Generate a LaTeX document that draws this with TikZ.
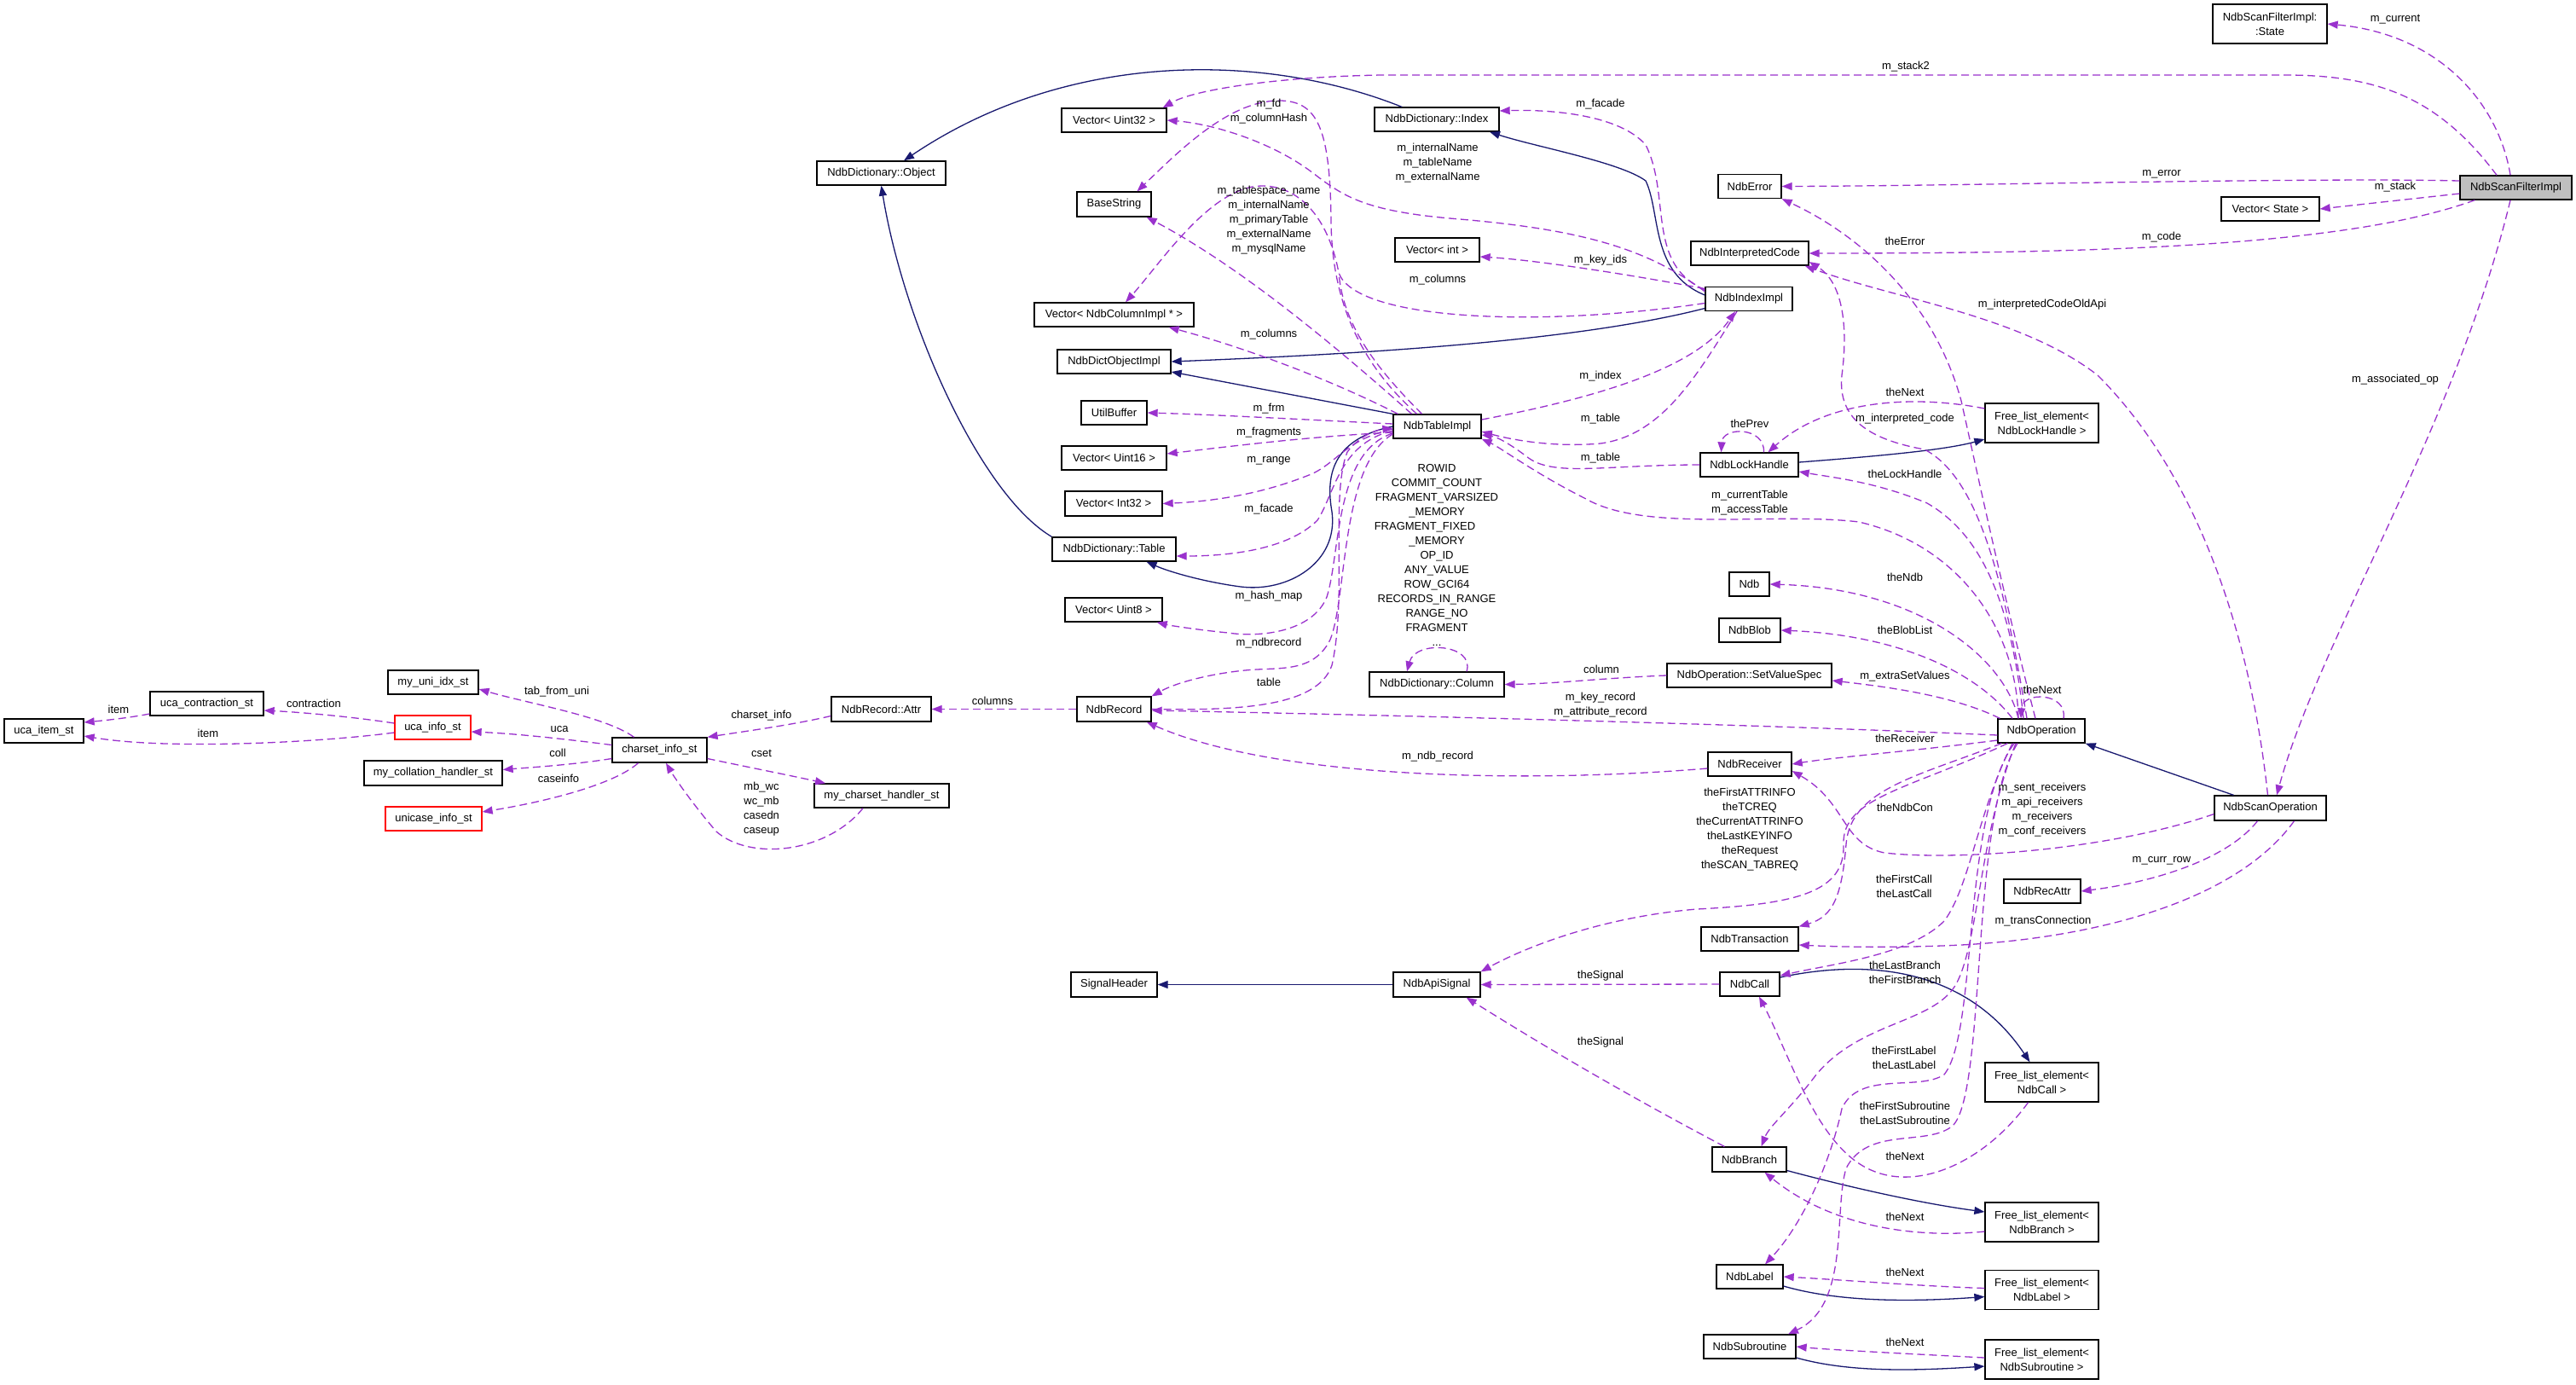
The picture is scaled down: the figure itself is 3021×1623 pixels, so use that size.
\documentclass[tikz,border=0pt]{standalone}
\usepackage{fontspec}
\setmainfont{Liberation Sans}
\usetikzlibrary{arrows.meta}
\definecolor{depc}{HTML}{9A32CD}
\definecolor{inhc}{HTML}{191970}
\definecolor{selc}{HTML}{BFBFBF}
\newcommand{\dsz}{\fontsize{13}{17}\selectfont}
\begin{document}
\begin{tikzpicture}[x=1pt,y=-1pt,
 box/.style={draw=black, line width=1.3pt, fill=white, minimum height=28pt, inner sep=0pt, font=\dsz, align=center},
 box2/.style={box, minimum height=46pt},
 redbox/.style={box, draw=red},
 dep/.style={draw=depc, line width=1.3pt, dash pattern=on 9pt off 5pt, -{Triangle[length=12pt,width=9pt]}},
 inh/.style={draw=inhc, line width=1.3pt, -{Triangle[length=12pt,width=9pt]}},
 lab/.style={font=\dsz, align=center, inner sep=0pt}]
\useasboundingbox (0,0) rectangle (3021,1623);
\fill[white] (0,0) rectangle (3021,1623);
% ---------------- nodes
\node[box2, minimum width=134pt] (State) at (2662,28) {NdbScanFilterImpl:\\:State};
\node[box, fill=selc, minimum width=131pt] (SFI) at (2950.5,220) {NdbScanFilterImpl};
\node[box, minimum width=115pt] (VState) at (2662.5,245) {Vector< State >};
\node[box, minimum width=74pt] (NErr) at (2052,218.5) {NdbError};
\node[box, minimum width=138pt] (NIC) at (2052,297) {NdbInterpretedCode};
\node[box, minimum width=102pt] (NII) at (2051,350.5) {NdbIndexImpl};
\node[box2, minimum width=133pt] (FLEL) at (2394.5,496) {Free\_list\_element<\\NdbLockHandle >};
\node[box, minimum width=115pt] (NLH) at (2051.5,545) {NdbLockHandle};
\node[box, minimum width=47pt] (Ndb) at (2051.5,685) {Ndb};
\node[box, minimum width=72pt] (NBlob) at (2052,739) {NdbBlob};
\node[box, minimum width=193pt] (SVS) at (2051.5,792) {NdbOperation::SetValueSpec};
\node[box, minimum width=102pt] (NOp) at (2394,857) {NdbOperation};
\node[box, minimum width=98pt] (NRc) at (2052,896) {NdbReceiver};
\node[box, minimum width=131pt, minimum height=29pt] (NSO) at (2662.5,947.5) {NdbScanOperation};
\node[box, minimum width=90pt] (NRA) at (2395,1045) {NdbRecAttr};
\node[box, minimum width=114pt] (NTr) at (2052,1101) {NdbTransaction};
\node[box, minimum width=70pt] (NCall) at (2052,1154) {NdbCall};
\node[box2, minimum width=133pt] (FLEC) at (2394.5,1269) {Free\_list\_element<\\NdbCall >};
\node[box, minimum width=87pt, minimum height=29pt] (NBr) at (2051.5,1359.5) {NdbBranch};
\node[box2, minimum width=133pt] (FLEB) at (2394.5,1433) {Free\_list\_element<\\NdbBranch >};
\node[box, minimum width=78pt] (NLb) at (2052,1497) {NdbLabel};
\node[box2, minimum width=133pt] (FLELb) at (2394.5,1512.5) {Free\_list\_element<\\NdbLabel >};
\node[box, minimum width=108pt] (NSub) at (2052,1579) {NdbSubroutine};
\node[box2, minimum width=133pt] (FLES) at (2394.5,1594) {Free\_list\_element<\\NdbSubroutine >};
\node[box, minimum width=123pt] (VU32) at (1306.5,141) {Vector< Uint32 >};
\node[box, minimum width=146pt] (Idx) at (1685,140) {NdbDictionary::Index};
\node[box, minimum width=151pt] (Obj) at (1033.5,203) {NdbDictionary::Object};
\node[box, minimum width=87pt, minimum height=29pt] (BStr) at (1306.5,239.5) {BaseString};
\node[box, minimum width=99pt] (VInt) at (1685.5,293) {Vector< int >};
\node[box, minimum width=187pt] (VCol) at (1306.5,369) {Vector< NdbColumnImpl * >};
\node[box, minimum width=133pt] (DOI) at (1306.5,424) {NdbDictObjectImpl};
\node[box, minimum width=77pt] (UBuf) at (1306.5,484) {UtilBuffer};
\node[box, minimum width=103pt] (NTI) at (1685.5,500) {NdbTableImpl};
\node[box, minimum width=123pt] (VU16) at (1306.5,537) {Vector< Uint16 >};
\node[box, minimum width=114pt, minimum height=29pt] (VI32) at (1306,590.5) {Vector< Int32 >};
\node[box, minimum width=145pt] (Tbl) at (1306.5,644) {NdbDictionary::Table};
\node[box, minimum width=114pt] (VU8) at (1306,715) {Vector< Uint8 >};
\node[box, minimum width=158pt, minimum height=29pt] (Col) at (1685,802.5) {NdbDictionary::Column};
\node[box, minimum width=87pt, minimum height=29pt] (NRec) at (1306.5,831.5) {NdbRecord};
\node[box, minimum width=101pt, minimum height=29pt] (SigH) at (1306.5,1154.5) {SignalHeader};
\node[box, minimum width=102pt, minimum height=29pt] (NAS) at (1685,1154.5) {NdbApiSignal};
\node[box, minimum width=106pt] (MUI) at (508,800) {my\_uni\_idx\_st};
\node[box, minimum width=133pt] (UCS) at (242.5,825) {uca\_contraction\_st};
\node[box, minimum width=93pt] (UIS) at (51.5,857) {uca\_item\_st};
\node[redbox, minimum width=89pt] (UIn) at (507.5,853) {uca\_info\_st};
\node[box, minimum width=111pt, minimum height=29pt] (CIS) at (773.5,879.5) {charset\_info\_st};
\node[box, minimum width=117pt, minimum height=29pt] (Attr) at (1033.5,831.5) {NdbRecord::Attr};
\node[box, minimum width=162pt, minimum height=29pt] (MCH) at (508,906.5) {my\_collation\_handler\_st};
\node[redbox, minimum width=113pt] (UCI) at (508.5,960) {unicase\_info\_st};
\node[box, minimum width=158pt] (MCSH) at (1034,933) {my\_charset\_handler\_st};
\coordinate (j1) at (1570,320);
% ---------------- inheritance
\draw[inh] ([shift={(-41,0)}]Idx.north) .. controls (1480,60) and (1250,60) .. ([shift={(26.5,0)}]Obj.north);
\draw[inh] (Tbl.north west) .. controls (1150,580) and (1060,380) .. (Obj.south);
\draw[inh] ([shift={(0,-4.5)}]NII.west) .. controls (1935,320) and (1948,250) .. (1930,212) .. controls (1900,190) and (1800,172) .. ([shift={(62,0)}]Idx.south);
\draw[inh] ([shift={(0,11)}]NII.west) .. controls (1850,400) and (1600,415) .. (DOI.east);
\draw[inh] (NTI.north west) -- ([shift={(0,12)}]DOI.east);
\draw[inh] (NTI.west) .. controls (1560,515) and (1555,560) .. (1562,600) .. controls (1570,660) and (1510,695) .. (1455,688) .. controls (1410,682) and (1370,670) .. ([shift={(38,0)}]Tbl.south);
\draw[inh] ([shift={(0,-3)}]NLH.east) .. controls (2200,535) and (2280,528) .. ([shift={(0,19)}]FLEL.west);
\draw[inh] ([shift={(-43,0)}]NSO.north) -- (NOp.south east);
\draw[inh] (NAS.west) -- (SigH.east);
\draw[inh] ([shift={(0,-8)}]NCall.east) .. controls (2200,1122) and (2310,1140) .. ([shift={(-14,0)}]FLEC.north);
\draw[inh] ([shift={(0,13)}]NBr.east) .. controls (2180,1395) and (2260,1412) .. ([shift={(0,-12)}]FLEB.west);
\draw[inh] ([shift={(0,11)}]NLb.east) .. controls (2160,1528) and (2250,1526) .. ([shift={(0,8)}]FLELb.west);
\draw[inh] ([shift={(0,13)}]NSub.east) .. controls (2170,1610) and (2250,1607) .. ([shift={(0,8)}]FLES.west);
% ---------------- usage: NdbScanFilterImpl
\draw[dep] ([shift={(-6.5,0)}]SFI.north) .. controls (2930,120) and (2860,40) .. (State.east);
\draw[dep] ([shift={(-22.5,0)}]SFI.north) .. controls (2860,115) and (2790,88) .. (2680,88) -- (1620,88) .. controls (1500,90) and (1400,105) .. ([shift={(-5,0)}]VU32.north east);
\draw[dep] ([shift={(0,-8)}]SFI.west) .. controls (2700,208) and (2300,218) .. (NErr.east);
\draw[dep] ([shift={(0,7)}]SFI.west) -- (VState.east);
\draw[dep] ([shift={(18,0)}]SFI.south west) .. controls (2750,290) and (2450,297) .. (NIC.east);
\draw[dep] ([shift={(-6.5,0)}]SFI.south) .. controls (2880,500) and (2720,750) .. ([shift={(7.5,0)}]NSO.north);
% ---------------- NdbIndexImpl
\draw[dep] ([shift={(0,4)}]NII.north west) .. controls (1930,310) and (1960,230) .. (1930,170) .. controls (1900,135) and (1820,128) .. ([shift={(0,-10)}]Idx.east);
\draw[dep] ([shift={(0,6)}]NII.north west) .. controls (1930,290) and (1850,268) .. (1700,256) .. controls (1600,247) and (1575,230) .. (1540,203) .. controls (1490,165) and (1420,145) .. (VU32.east);
\draw[dep] ([shift={(0,5)}]NII.west) .. controls (1800,385) and (1590,375) .. (j1) .. controls (1560,265) and (1530,218) .. (1480,218) .. controls (1420,218) and (1360,310) .. ([shift={(13.5,0)}]VCol.north);
\draw[dep] ([shift={(0,-12)}]NII.west) .. controls (1900,320) and (1800,305) .. ([shift={(0,8)}]VInt.east);
\draw[dep] ([shift={(-14,0)}]NII.south) .. controls (1990,440) and (1950,510) .. (1877,520) .. controls (1820,525) and (1770,515) .. ([shift={(0,6)}]NTI.east);
% ---------------- NdbTableImpl
\draw[dep] ([shift={(-24,0)}]NTI.north) .. controls (1600,430) and (1562,360) .. (1561,260) .. controls (1560,150) and (1545,118) .. (1500,118) .. controls (1440,118) and (1380,180) .. ([shift={(27,0)}]BStr.north);
\draw[dep, -] ([shift={(-18,0)}]NTI.north) .. controls (1612,430) and (1575,380) .. (j1);
\draw[dep] ([shift={(-30,0)}]NTI.north) .. controls (1560,400) and (1450,310) .. ([shift={(-6,0)}]BStr.south east);
\draw[dep] ([shift={(6,0)}]NTI.north west) .. controls (1550,440) and (1450,405) .. ([shift={(-30,0)}]VCol.south east);
\draw[dep] ([shift={(0,-3)}]NTI.west) .. controls (1530,492) and (1420,486) .. (UBuf.east);
\draw[dep] ([shift={(0,7)}]NTI.west) .. controls (1530,512) and (1430,525) .. ([shift={(0,-5)}]VU16.east);
\draw[dep] ([shift={(0,3)}]NTI.west) .. controls (1580,515) and (1570,540) .. (1540,555) .. controls (1480,580) and (1420,588) .. (VI32.east);
\draw[dep] ([shift={(0,5)}]NTI.west) .. controls (1570,520) and (1565,580) .. (1545,610) .. controls (1510,645) and (1440,652) .. ([shift={(0,8)}]Tbl.east);
\draw[dep] ([shift={(0,8)}]NTI.west) .. controls (1565,530) and (1572,650) .. (1556,700) .. controls (1540,740) and (1480,748) .. (1440,742) .. controls (1400,738) and (1370,733) .. ([shift={(-7,0)}]VU8.south east);
\draw[dep] ([shift={(0,9)}]NTI.west) .. controls (1572,545) and (1580,700) .. (1560,750) .. controls (1540,790) and (1500,782) .. (1460,786) .. controls (1420,790) and (1380,800) .. (NRec.north east);
\draw[dep] (NRec.east) .. controls (1450,833) and (1545,830) .. (1562,780) .. controls (1580,700) and (1560,580) .. (1580,530) .. controls (1595,510) and (1615,504) .. ([shift={(0,2)}]NTI.west);
\draw[dep] ([shift={(0,-8)}]NTI.east) .. controls (1880,465) and (1990,430) .. ([shift={(-16,0)}]NII.south);
% ---------------- NdbLockHandle
\draw[dep] (NLH.west) .. controls (1880,545) and (1820,560) .. (1790,535) .. controls (1770,520) and (1755,512) .. ([shift={(0,10)}]NTI.east);
\draw[dep] ([shift={(17,0)}]NLH.north) .. controls (2070,500) and (2020,500) .. ([shift={(-33,0)}]NLH.north);
\draw[dep] ([shift={(0,-17)}]FLEL.west) .. controls (2240,462) and (2140,470) .. ([shift={(22,0)}]NLH.north);
% ---------------- NdbOperation
\draw[dep] ([shift={(-27,0)}]NOp.north) .. controls (2365,740) and (2300,640) .. (2180,612) .. controls (2080,600) and (1930,625) .. (1860,585) .. controls (1800,555) and (1760,525) .. (NTI.south east);
\draw[dep] ([shift={(-27,0)}]NOp.north) .. controls (2350,770) and (2250,690) .. (Ndb.east);
\draw[dep] ([shift={(-34,0)}]NOp.north) .. controls (2320,790) and (2230,745) .. (NBlob.east);
\draw[dep] ([shift={(3,0)}]NOp.north west) .. controls (2290,815) and (2210,805) .. ([shift={(0,6)}]SVS.east);
\draw[dep] ([shift={(26,0)}]NOp.north) .. controls (2425,812) and (2372,810) .. ([shift={(-24,0)}]NOp.north);
\draw[dep] ([shift={(-21,0)}]NOp.north) .. controls (2360,720) and (2330,630) .. (2260,590) .. controls (2200,565) and (2150,560) .. ([shift={(0,8)}]NLH.east);
\draw[dep] ([shift={(-17,0)}]NOp.north) .. controls (2350,680) and (2320,560) .. (2257,527) .. controls (2190,515) and (2155,490) .. (2160,440) .. controls (2168,380) and (2160,330) .. ([shift={(0,10)}]NIC.east);
\draw[dep] ([shift={(-7,0)}]NOp.north) .. controls (2350,700) and (2320,560) .. (2300,470) .. controls (2270,360) and (2190,280) .. (NErr.south east);
\draw[dep] ([shift={(0,11)}]NOp.west) .. controls (2250,880) and (2150,888) .. (NRc.east);
\draw[dep] ([shift={(5,0)}]NOp.south west) .. controls (2250,910) and (2170,925) .. (2165,990) .. controls (2160,1050) and (2150,1075) .. (NTr.north east);
\draw[dep] ([shift={(12,0)}]NOp.south west) .. controls (2240,925) and (2160,935) .. (2162,990) .. controls (2164,1045) and (2110,1060) .. (1990,1066) .. controls (1880,1075) and (1790,1110) .. (NAS.north east);
\draw[dep] ([shift={(-34,0)}]NOp.south) .. controls (2320,950) and (2310,1040) .. (2280,1080) .. controls (2240,1120) and (2150,1130) .. ([shift={(0,-10)}]NCall.east);
\draw[dep] ([shift={(-30,0)}]NOp.south) .. controls (2320,980) and (2320,1120) .. (2290,1160) .. controls (2260,1200) and (2180,1200) .. (2130,1260) .. controls (2100,1300) and (2075,1320) .. ([shift={(14,0)}]NBr.north);
\draw[dep] ([shift={(-32,0)}]NOp.south) .. controls (2300,960) and (2320,1210) .. (2280,1260) .. controls (2250,1280) and (2180,1255) .. (2160,1300) .. controls (2145,1370) and (2110,1440) .. ([shift={(18,0)}]NLb.north);
\draw[dep] ([shift={(-28,0)}]NOp.south) .. controls (2310,960) and (2330,1280) .. (2290,1320) .. controls (2260,1345) and (2190,1320) .. (2165,1370) .. controls (2150,1420) and (2170,1530) .. ([shift={(45,0)}]NSub.north);
\draw[dep] ([shift={(0,5)}]NOp.west) .. controls (2100,851) and (1700,840) .. ([shift={(0,1.5)}]NRec.east);
% ---------------- Free_list / NdbCall etc.
\draw[dep] ([shift={(-16,0)}]FLEC.south) .. controls (2330,1360) and (2250,1400) .. (2190,1370) .. controls (2130,1340) and (2100,1240) .. ([shift={(11,0)}]NCall.south);
\draw[dep] ([shift={(0,11)}]FLEB.west) .. controls (2250,1452) and (2150,1440) .. ([shift={(18,0)}]NBr.south);
\draw[dep] ([shift={(0,-2)}]FLELb.west) .. controls (2250,1508) and (2150,1500) .. (NLb.east);
\draw[dep] ([shift={(0,-2)}]FLES.west) .. controls (2250,1588) and (2150,1583) .. (NSub.east);
\draw[dep] (NCall.west) -- (NAS.east);
\draw[dep] ([shift={(15,0)}]NBr.north west) .. controls (1900,1280) and (1800,1220) .. ([shift={(-17,0)}]NAS.south east);
% ---------------- NdbScanOperation
\draw[dep] ([shift={(0,7)}]NSO.west) .. controls (2480,995) and (2300,1010) .. (2210,1000) .. controls (2160,990) and (2165,940) .. ([shift={(0,8)}]NRc.east);
\draw[dep] ([shift={(-15,0)}]NSO.south) .. controls (2610,1010) and (2520,1035) .. (NRA.east);
\draw[dep] ([shift={(28,0)}]NSO.south) .. controls (2620,1060) and (2450,1100) .. (2300,1108) .. controls (2220,1112) and (2150,1110) .. ([shift={(0,7)}]NTr.east);
\draw[dep] ([shift={(-3,0)}]NSO.north) .. controls (2640,750) and (2580,560) .. (2460,440) .. controls (2370,370) and (2220,350) .. ([shift={(-5,0)}]NIC.south east);
% ---------------- records / columns
\draw[dep] ([shift={(0,5)}]NRc.west) .. controls (1800,918) and (1500,915) .. ([shift={(-6,0)}]NRec.south east);
\draw[dep] (SVS.west) .. controls (1880,795) and (1820,802) .. (Col.east);
\draw[dep] ([shift={(35,0)}]Col.north) .. controls (1730,755) and (1660,750) .. ([shift={(-35,0)}]Col.north);
\draw[dep] (NRec.west) -- (Attr.east);
% ---------------- charset
\draw[dep] ([shift={(0,8)}]Attr.west) .. controls (930,850) and (870,858) .. (CIS.north east);
\draw[dep] ([shift={(-30,0)}]CIS.north) .. controls (710,840) and (620,825) .. ([shift={(0,8)}]MUI.east);
\draw[dep] ([shift={(0,-6)}]CIS.west) .. controls (650,865) and (600,860) .. ([shift={(0,5)}]UIn.east);
\draw[dep] ([shift={(0,10)}]CIS.west) .. controls (670,897) and (620,900) .. ([shift={(0,-4)}]MCH.east);
\draw[dep] ([shift={(-25,0)}]CIS.south) .. controls (720,920) and (640,940) .. ([shift={(0,-8)}]UCI.east);
\draw[dep] ([shift={(0,10)}]CIS.east) .. controls (880,900) and (930,910) .. ([shift={(-66,0)}]MCSH.north);
\draw[dep] ([shift={(-22,0)}]MCSH.south) .. controls (970,1000) and (880,1010) .. (840,975) .. controls (810,940) and (790,910) .. ([shift={(7.5,0)}]CIS.south);
\draw[dep] ([shift={(0,-5)}]UIn.west) .. controls (410,840) and (350,835) .. ([shift={(0,8)}]UCS.east);
\draw[dep] ([shift={(0,12)}]UCS.west) .. controls (150,842) and (120,845) .. ([shift={(0,-10)}]UIS.east);
\draw[dep] ([shift={(0,6)}]UIn.west) .. controls (380,870) and (200,880) .. ([shift={(0,6)}]UIS.east);
% ---------------- labels
\node[lab] (l1) at (2809,23) {m\_current};
\node[lab] (l2) at (2235,78) {m\_stack2};
\node[lab] (l3) at (2535,204) {m\_error};
\node[lab] (l4) at (2809,219) {m\_stack};
\node[lab] (l5) at (2535,278) {m\_code};
\node[lab] (l6) at (2809,445) {m\_associated\_op};
\node[lab] (l7) at (1877,122) {m\_facade};
\node[lab] (l8) at (1488,131) {m\_fd\\m\_columnHash};
\node[lab] (l9) at (1686,191) {m\_internalName\\m\_tableName\\m\_externalName};
\node[lab] (l10) at (1488,258) {m\_tablespace\_name\\m\_internalName\\m\_primaryTable\\m\_externalName\\m\_mysqlName};
\node[lab] (l11) at (1877,305) {m\_key\_ids};
\node[lab] (l12) at (1686,328) {m\_columns};
\node[lab] (l13) at (1488,392) {m\_columns};
\node[lab] (l14) at (1877,441) {m\_index};
\node[lab] (l15) at (1877,491) {m\_table};
\node[lab] (l16) at (1488,479) {m\_frm};
\node[lab] (l17) at (1488,507) {m\_fragments};
\node[lab] (l18) at (2052,497) {thePrev};
\node[lab] (l19) at (2234,460) {theNext};
\node[lab] (l20) at (2234,491) {m\_interpreted\_code};
\node[lab] (l21) at (2234,283) {theError};
\node[lab] (l22) at (2395,357) {m\_interpretedCodeOldApi};
\node[lab] (l23) at (1877,537) {m\_table};
\node[lab] (l24) at (1488,540) {m\_range};
\node[lab] (l25) at (2234,556) {theLockHandle};
\node[lab] (l26) at (2052,590) {m\_currentTable\\m\_accessTable};
\node[lab] (l27) at (1488,597) {m\_facade};
\node[lab] (l28) at (1685,651) {ROWID\\COMMIT\_COUNT\\FRAGMENT\_VARSIZED\\\_MEMORY\\FRAGMENT\_FIXED\rule{28pt}{0pt}\\\_MEMORY\\OP\_ID\\ANY\_VALUE\\ROW\_GCI64\\RECORDS\_IN\_RANGE\\RANGE\_NO\\FRAGMENT\\...};
\node[lab] (l29) at (2234,677) {theNdb};
\node[lab] (l30) at (1488,699) {m\_hash\_map};
\node[lab] (l31) at (2234,739) {theBlobList};
\node[lab] (l32) at (1488,754) {m\_ndbrecord};
\node[lab] (l33) at (1878,785) {column};
\node[lab] (l34) at (2234,793) {m\_extraSetValues};
\node[lab] (l35) at (1488,800) {table};
\node[lab] (l36) at (2395,809) {theNext};
\node[lab] (l37) at (1877,827) {m\_key\_record\\m\_attribute\_record};
\node[lab] (l38) at (1164,822) {columns};
\node[lab] (l39) at (893,839) {charset\_info};
\node[lab] (l40) at (653,811) {tab\_from\_uni};
\node[lab] (l41) at (368,825) {contraction};
\node[lab] (l42) at (139,832) {item};
\node[lab] (l43) at (656,855) {uca};
\node[lab] (l44) at (244,860) {item};
\node[lab] (l45) at (654,883) {coll};
\node[lab] (l46) at (893,883) {cset};
\node[lab] (l47) at (655,913) {caseinfo};
\node[lab] (l48) at (893,949) {mb\_wc\\wc\_mb\\casedn\\caseup};
\node[lab] (l49) at (2234,866) {theReceiver};
\node[lab] (l50) at (1686,887) {m\_ndb\_record};
\node[lab] (l51) at (2395,950) {m\_sent\_receivers\\m\_api\_receivers\\m\_receivers\\m\_conf\_receivers};
\node[lab] (l52) at (2052,973) {theFirstATTRINFO\\theTCREQ\\theCurrentATTRINFO\\theLastKEYINFO\\theRequest\\theSCAN\_TABREQ};
\node[lab] (l53) at (2234,947) {theNdbCon};
\node[lab] (l54) at (2535,1009) {m\_curr\_row};
\node[lab] (l55) at (2233,1039) {theFirstCall\\theLastCall};
\node[lab] (l56) at (2396,1080) {m\_transConnection};
\node[lab] (l57) at (1877,1144) {theSignal};
\node[lab] (l58) at (2234,1140) {theLastBranch\\theFirstBranch};
\node[lab] (l59) at (1877,1222) {theSignal};
\node[lab] (l60) at (2233,1240) {theFirstLabel\\theLastLabel};
\node[lab] (l61) at (2234,1305) {theFirstSubroutine\\theLastSubroutine};
\node[lab] (l62) at (2234,1356) {theNext};
\node[lab] (l63) at (2234,1427) {theNext};
\node[lab] (l64) at (2234,1492) {theNext};
\node[lab] (l65) at (2234,1574) {theNext};
\end{tikzpicture}
\end{document}
